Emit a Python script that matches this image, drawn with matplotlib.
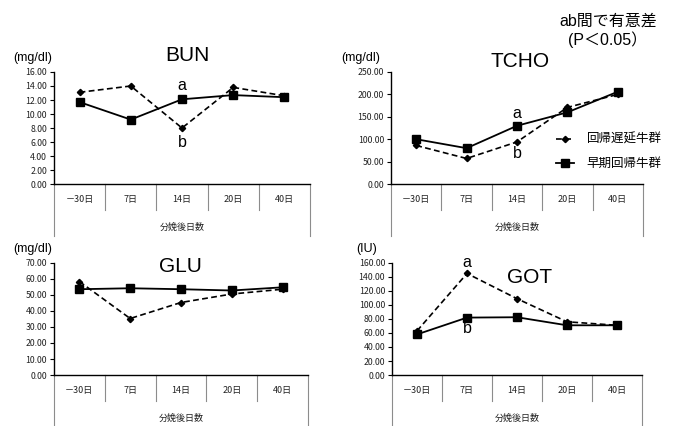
import numpy as np
import matplotlib
matplotlib.use("Agg")
import matplotlib.pyplot as plt
from matplotlib.transforms import blended_transform_factory

plt.rcParams['font.family'] = ['Liberation Sans', 'Noto Sans CJK JP']
plt.rcParams['axes.linewidth'] = 1.0

days = ["－30日", "7日", "14日", "20日", "40日"]
group_label = "分娩後日数"
late_name = "回帰遅延牛群"
early_name = "早期回帰牛群"

bun_late = [13.1, 14.0, 8.0, 13.8, 12.6]
bun_early = [11.7, 9.2, 12.1, 12.7, 12.4]
tcho_late = [86, 57, 94, 171, 200]
tcho_early = [100, 80, 130, 160, 206]
glu_late = [58.4, 35.3, 45.3, 50.6, 53.6]
glu_early = [53.6, 54.2, 53.6, 52.8, 54.8]
got_late = [63, 145, 109, 76, 71]
got_early = [58, 82, 82.5, 71, 71]

fig = plt.figure(figsize=(6.8, 4.26), dpi=100)

tick_font = ['Noto Sans CJK JP']


def panel(rect, late, early, ymax, ystep, title, title_xy, unit, unit_xy):
    ax = fig.add_axes(rect)
    x = np.arange(len(days))
    ax.plot(x, late, color='black', linestyle=(0, (3.5, 2)), linewidth=1.2,
            marker='D', markersize=3.2, label=late_name)
    ax.plot(x, early, color='black', linestyle='-', linewidth=1.3,
            marker='s', markersize=5.5, label=early_name)
    ax.set_xlim(-0.5, len(days) - 0.5)
    ax.set_ylim(0, ymax)
    yt = np.arange(0, ymax + ystep / 2, ystep)
    ax.set_yticks(yt)
    ax.set_yticklabels(["%.2f" % v for v in yt], fontsize=6.3,
                       family=tick_font, color='#222222')
    ax.set_xticks(x)
    ax.set_xticklabels(days, fontsize=6.5, family=tick_font, color='#222222')
    ax.tick_params(axis='x', length=0, pad=8)
    ax.tick_params(axis='y', length=3, width=0.8, pad=2)
    ax.spines['top'].set_visible(False)
    ax.spines['right'].set_visible(False)
    # category box lines below the axis
    tr = blended_transform_factory(ax.transData, ax.transAxes)
    for xs in np.arange(0.5, len(days) - 1, 1.0):
        ax.plot([xs, xs], [0, -0.235], color='#8c8c8c', linewidth=0.8,
                transform=tr, clip_on=False)
    for xs in [-0.5, len(days) - 0.5]:
        ax.plot([xs, xs], [0, -0.46], color='#8c8c8c', linewidth=0.8,
                transform=tr, clip_on=False)
    ax.text(0.5, -0.385, group_label, transform=ax.transAxes, ha='center',
            va='center', fontsize=6.5, family=tick_font, color='#222222')
    ax.text(title_xy[0], title_xy[1], title, transform=ax.transAxes,
            ha='center', va='center', fontsize=15)
    ax.text(unit_xy[0], unit_xy[1], unit, transform=ax.transAxes,
            ha='center', va='center', fontsize=9)
    return ax


ax1 = panel([0.0794, 0.568, 0.3765, 0.263], bun_late, bun_early, 16, 2,
            "BUN", (0.523, 1.15), "(mg/dl)", (-0.082, 1.125))
ax2 = panel([0.575, 0.568, 0.3706, 0.263], tcho_late, tcho_early, 250, 50,
            "TCHO", (0.512, 1.09), "(mg/dl)", (-0.119, 1.125))
ax3 = panel([0.0794, 0.1197, 0.3735, 0.263], glu_late, glu_early, 70, 10,
            "GLU", (0.496, 0.965), "(mg/dl)", (-0.083, 1.125))
ax4 = panel([0.5765, 0.1197, 0.3676, 0.263], got_late, got_early, 160, 20,
            "GOT", (0.552, 0.866), "(IU)", (-0.1, 1.125))

# significance letters
ax1.text(2, 14.0, "a", ha='center', va='center', fontsize=11.5)
ax1.text(2, 5.9, "b", ha='center', va='center', fontsize=11.5)
ax2.text(2, 158, "a", ha='center', va='center', fontsize=11.5)
ax2.text(2, 69, "b", ha='center', va='center', fontsize=11.5)
ax4.text(1, 161, "a", ha='center', va='center', fontsize=11.5)
ax4.text(1, 67, "b", ha='center', va='center', fontsize=11.5)

handles, labels = ax2.get_legend_handles_labels()
fig.legend(handles, labels, loc='center left', bbox_to_anchor=(0.818, 0.643),
           frameon=False, fontsize=9, handlelength=1.45, handletextpad=1.0,
           labelspacing=1.0, borderpad=0, borderaxespad=0)

fig.text(0.895, 0.951, "ab間で有意差", ha='center', va='center', fontsize=11.5)
fig.text(0.894, 0.908, "(P＜0.05）", ha='center', va='center', fontsize=11.5)

fig.savefig("out.png", dpi=100)
